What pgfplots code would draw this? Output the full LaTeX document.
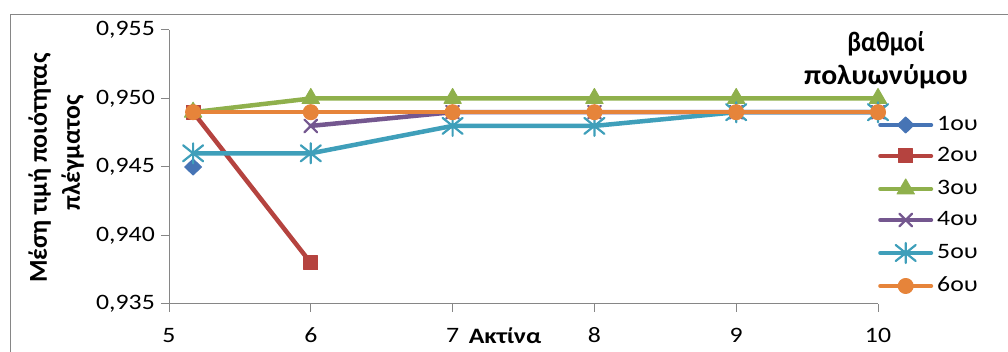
\documentclass[border=0pt]{standalone}
\usepackage{pgfplots}
\pgfplotsset{compat=1.18}
\usepackage{fontspec}
\setmainfont{Carlito}
\usepackage{graphicx}
\newcommand\wide[1]{\scalebox{1.17}[1]{#1}}
\definecolor{axgray}{HTML}{868686}
\definecolor{c1}{HTML}{4674B5}
\definecolor{c2}{HTML}{B5433F}
\definecolor{c3}{HTML}{8FB04C}
\definecolor{c4}{HTML}{74578F}
\definecolor{c5}{HTML}{3F9FBA}
\definecolor{c6}{HTML}{E6843A}
\pgfdeclareplotmark{xstar}{%
  \pgfpathmoveto{\pgfqpoint{0pt}{\pgfplotmarksize}}%
  \pgfpathlineto{\pgfqpoint{0pt}{-\pgfplotmarksize}}%
  \pgfpathmoveto{\pgfqpoint{-\pgfplotmarksize}{-0.8\pgfplotmarksize}}%
  \pgfpathlineto{\pgfqpoint{\pgfplotmarksize}{0.8\pgfplotmarksize}}%
  \pgfpathmoveto{\pgfqpoint{-\pgfplotmarksize}{0.8\pgfplotmarksize}}%
  \pgfpathlineto{\pgfqpoint{\pgfplotmarksize}{-0.8\pgfplotmarksize}}%
  \pgfusepathqstroke}
\begin{document}
\begin{tikzpicture}[x=1pt,y=1pt,font=\fontsize{22}{26}\selectfont]
\useasboundingbox (0,0) rectangle (1008,352);
\draw[axgray, line width=1pt] (10,-5) -- (10,337) -- (1015,337);
\node[font=\fontsize{28}{30}\selectfont\bfseries, anchor=base] at (886,300) {\scalebox{0.9}[1]{βαθμοί}};
\node[font=\fontsize{28}{30}\selectfont\bfseries, anchor=base] at (886,267) {\scalebox{1.06}[1]{πολυωνύμου}};
\begin{axis}[
  at={(169pt,48pt)}, anchor=south west, scale only axis,
  width=709pt, height=274pt,
  xmin=5, xmax=10, ymin=0.935, ymax=0.955,
  axis x line=bottom, axis y line=left,
  axis line style={-, draw=axgray, line width=1pt},
  tick align=outside, major tick length=8pt,
  tick style={draw=axgray, line width=1pt},
  xtick={5,6,7,8,9,10},
  xticklabels={\wide{5},\wide{6},\wide{7},\wide{8},\wide{9},\wide{10}},
  ytick={0.935,0.94,0.945,0.95,0.955},
  yticklabels={\wide{0,935},\wide{0,940},\wide{0,945},\wide{0,950},\wide{0,955}},
  xticklabel style={anchor=base, inner sep=0pt, yshift=-31pt},
  yticklabel style={anchor=east, inner sep=0pt, xshift=-6pt},
  xlabel={\wide{\textbf{Ακτίνα}}},
  xlabel style={at={(rel axis cs:0.474,0)}, anchor=base, inner sep=0pt, yshift=-40pt},
  ylabel={Μέση τιμή ποιότητας\\\hspace*{30pt}πλέγματος},
  ylabel style={at={(rel axis cs:-0.159,0.496)}, anchor=center, align=center,
    font=\fontsize{25.8}{33}\selectfont\bfseries, inner sep=0pt},
  clip=false,
  every axis plot/.append style={line width=4.5pt, line cap=round, line join=round},
  legend style={at={(rel axis cs:1,0.3595)}, anchor=west, draw=none, fill=none,
    inner sep=0pt, row sep=15pt, legend cell align=left,
    nodes={inner sep=0pt, text height=14pt, text depth=2pt},
    /tikz/every odd column/.append style={column sep=4pt}},
  legend image code/.code={\draw[line width=4pt, mark repeat=2,mark phase=2,#1] plot coordinates {(2pt,0pt)(27.5pt,0pt)(53pt,0pt)};},
]
\addplot[c1, mark=diamond*, mark size=8pt, mark options={solid, fill=c1, xscale=1.4, line width=1pt}]
  coordinates {(5.17,0.945)};
\addlegendentry{\wide{1ου}}
\addplot[c2, mark=square*, mark size=7pt, mark options={solid, fill=c2, line width=1pt}]
  coordinates {(5.17,0.949) (6,0.938)};
\addlegendentry{\wide{2ου}}
\addplot[c3, mark=triangle*, mark size=10pt, mark options={solid, fill=c3, line width=1pt}]
  coordinates {(5.17,0.949) (6,0.950) (7,0.950) (8,0.950) (9,0.950) (10,0.950)};
\addlegendentry{\wide{3ου}}
\addplot[c4, mark=x, mark size=9pt, mark options={solid, line width=2.2pt}]
  coordinates {(6,0.948) (7,0.949) (8,0.949) (9,0.949) (10,0.949)};
\addlegendentry{\wide{4ου}}
\addplot[c5, mark=xstar, mark size=10pt, mark options={solid, line width=2.2pt}]
  coordinates {(5.17,0.946) (6,0.946) (7,0.948) (8,0.948) (9,0.949) (10,0.949)};
\addlegendentry{\wide{5ου}}
\addplot[c6, mark=*, mark size=7.5pt, mark options={solid, fill=c6, line width=1pt}]
  coordinates {(5.17,0.949) (6,0.949) (7,0.949) (8,0.949) (9,0.949) (10,0.949)};
\addlegendentry{\wide{6ου}}
\end{axis}
\end{tikzpicture}
\end{document}
